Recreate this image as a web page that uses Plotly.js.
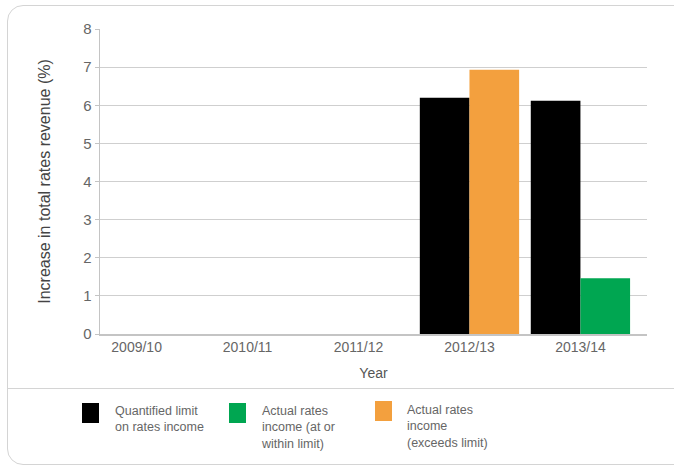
<!DOCTYPE html>
<html>
<head>
<meta charset="utf-8">
<script src="https://cdn.plot.ly/plotly-3.0.1.min.js"></script>
<style>
  html, body { margin:0; padding:0; background:#fff; overflow:hidden; }
  #wrap { position:relative; width:674px; height:469px; overflow:hidden; }
  #frame { position:absolute; left:7px; top:5px; width:690px; height:460px;
           border:1.5px solid #d4d4d4; border-radius:16px; box-sizing:border-box; }
  #divider { position:absolute; left:7px; top:388px; width:680px; height:0;
             border-top:1.5px solid #d4d4d4; }
  #chart { position:absolute; left:0; top:0; width:674px; height:469px; }
</style>
</head>
<body>
<div id="wrap">
  <div id="frame"></div>
  <div id="divider"></div>
  <div id="chart"></div>
</div>
<script>
const years = ["2009/10", "2010/11", "2011/12", "2012/13", "2013/14"];
const quantifiedLimit = [null, null, null, 6.2, 6.12];
const actualWithin = [null, null, null, null, 1.46];
const actualExceeds = [null, null, null, 6.93, null];
const yTicks = [0, 1, 2, 3, 4, 5, 6, 7, 8];

const seriesNames = ["Quantified limit<br>on rates income",
                     "Actual rates<br>income (at or<br>within limit)",
                     "Actual rates<br>income<br>(exceeds limit)"];
const colors = ["#000000", "#00a651", "#f3a03e"];

const traces = [
  {type:"bar", x: years, y: quantifiedLimit, name: seriesNames[0], offsetgroup:"a",
   marker:{color: colors[0]}},
  {type:"bar", x: years, y: actualWithin, name: seriesNames[1], offsetgroup:"b",
   marker:{color: colors[1]}},
  {type:"bar", x: years, y: actualExceeds, name: seriesNames[2], offsetgroup:"b",
   marker:{color: colors[2]}}
];

// plot area in pixels: left 100, right 647, top 29, bottom 334
const L = 100, R = 647, T = 29, B = 334;
const px = v => (v - L) / (R - L);
const py = v => (B - v) / (B - T);

const legendFont = {size:12.5, color:"#666",
  family:"Liberation Sans, Arial, sans-serif"};
const legendItems = [
  {x0: 82, x1: 99, y0: 403, y1: 423, tx: 113, ty: 402},
  {x0: 229, x1: 246, y0: 403, y1: 423, tx: 259, ty: 402},
  {x0: 375, x1: 392, y0: 401, y1: 421, tx: 405, ty: 401}
];
const shapes = [], annotations = [];
legendItems.forEach((it, i) => {
  shapes.push({type:"rect", xref:"paper", yref:"paper",
    x0: px(it.x0), x1: px(it.x1), y0: py(it.y1), y1: py(it.y0),
    fillcolor: colors[i], line:{width:0}});
  annotations.push({xref:"paper", yref:"paper", x: px(it.tx), y: py(it.ty),
    xanchor:"left", yanchor:"top", align:"left", showarrow:false,
    text: seriesNames[i], font: legendFont});
});

const layout = {
  width: 674, height: 469,
  paper_bgcolor: "rgba(0,0,0,0)", plot_bgcolor: "rgba(0,0,0,0)",
  margin: {l: L, r: 674 - R, t: T, b: 469 - B},
  font: {family: "Liberation Sans, Arial, sans-serif", color: "#666", size: 13},
  showlegend: false,
  barmode: "group",
  bargap: 0.105,
  bargroupgap: 0,
  xaxis: {
    type: "category", range: [-0.33, 4.6],
    showgrid: false, showline: true, linecolor: "#c4c4c4", linewidth: 1.5,
    ticks: "", tickfont: {size: 14, color: "#666"},
    title: {text: "Year", font: {size: 14, color: "#555"}, standoff: 14},
    fixedrange: true
  },
  yaxis: {
    range: [0, 8], tickvals: yTicks, ticktext: yTicks.map(String),
    showgrid: true, gridcolor: "#cfcfcf", gridwidth: 1.2,
    showline: true, linecolor: "#c4c4c4", linewidth: 1.5,
    ticks: "outside", ticklen: 4, tickcolor: "#c4c4c4",
    zeroline: false,
    tickfont: {size: 15, color: "#666"},
    title: {text: "Increase in total rates revenue (%)", font: {size: 16, color: "#444"}, standoff: 28},
    fixedrange: true
  },
  shapes: shapes,
  annotations: annotations
};

Plotly.newPlot("chart", traces, layout, {displayModeBar: false, staticPlot: true});
</script>
</body>
</html>
